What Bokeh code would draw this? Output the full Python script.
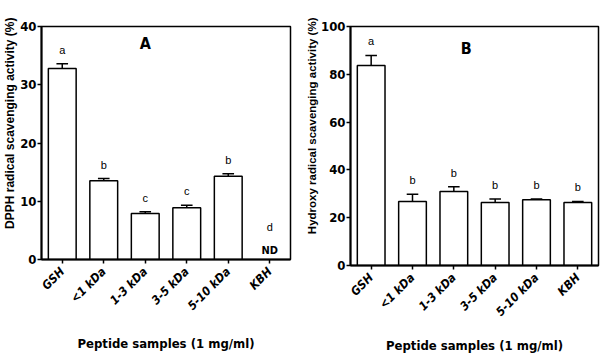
import math
from bokeh.plotting import figure
from bokeh.layouts import row
from bokeh.models import Range1d, FixedTicker, ColumnDataSource, Label, Title
from bokeh.embed import file_html
from bokeh.resources import INLINE
from bokeh.core.properties import value

categories = ["GSH", "<1 kDa", "1-3 kDa", "3-5 kDa", "5-10 kDa", "KBH"]

dpph_mean = [32.8, 13.5, 7.9, 8.9, 14.3, 0.0]
dpph_err = [0.8, 0.4, 0.3, 0.4, 0.4, 0.0]
dpph_letters = ["a", "b", "c", "c", "b", "d"]
dpph_detected = [True, True, True, True, True, False]
dpph_yticks = [0, 10, 20, 30, 40]

hydroxy_mean = [83.7, 26.8, 31.0, 26.4, 27.5, 26.4]
hydroxy_err = [4.2, 3.0, 2.0, 1.4, 0.3, 0.4]
hydroxy_letters = ["a", "b", "b", "b", "b", "b"]
hydroxy_detected = [True, True, True, True, True, True]
hydroxy_yticks = [0, 20, 40, 60, 80, 100]

NARROW = "DejaVu Sans Condensed"
SANS = "Liberation Sans"


def make_panel(title_letter, title_pos, ylabel, ylabel_size, means, errs,
               letters, detected, yticks, frame_w, frame_h,
               left, right, top, bottom, xstand):
    ymax = yticks[-1]
    p = figure(output_backend="svg", toolbar_location=None,
               frame_width=frame_w, frame_height=frame_h,
               min_border_left=left, min_border_right=right,
               min_border_top=top, min_border_bottom=bottom,
               x_range=Range1d(-0.5, len(categories) - 0.5),
               y_range=Range1d(0, ymax))
    p.xgrid.visible = False
    p.ygrid.visible = False
    p.outline_line_color = "black"
    p.outline_line_width = 1.5
    p.background_fill_color = "white"
    p.border_fill_color = "white"

    xs = list(range(len(categories)))
    xs_d = [x for x, d in zip(xs, detected) if d]
    m_d = [m for m, d in zip(means, detected) if d]
    e_d = [e for e, d in zip(errs, detected) if d]
    l_d = [l for l, d in zip(letters, detected) if d]
    tops = [m + e for m, e in zip(m_d, e_d)]

    src = ColumnDataSource(dict(x=xs_d, m=m_d, top=tops, lab=l_d,
                                cl=[x - 0.14 for x in xs_d],
                                cr=[x + 0.14 for x in xs_d]))
    p.vbar(x="x", top="m", width=0.67, bottom=0, source=src,
           fill_color="white", line_color="black", line_width=1.5)
    p.segment(x0="x", y0="m", x1="x", y1="top", source=src,
              line_color="black", line_width=1.5)
    p.segment(x0="cl", y0="top", x1="cr", y1="top", source=src,
              line_color="black", line_width=1.5)
    p.text(x="x", y="top", text="lab", source=src, text_align="center",
           text_baseline="middle", y_offset=-14, text_font=value(SANS),
           text_font_size="11px", text_color="black")

    nd_x = [x for x, d in zip(xs, detected) if not d]
    nd_l = [l for l, d in zip(letters, detected) if not d]
    if nd_x:
        nsrc = ColumnDataSource(dict(x=nd_x, y=[0] * len(nd_x), lab=nd_l,
                                     nd=["ND"] * len(nd_x)))
        p.text(x="x", y="y", text="nd", source=nsrc, text_align="center",
               text_baseline="middle", y_offset=-9, text_font=value(NARROW),
               text_font_size="11px", text_font_style="bold", text_color="black")
        p.text(x="x", y="y", text="lab", source=nsrc, text_align="center",
               text_baseline="middle", y_offset=-33, text_font=value(SANS),
               text_font_size="11px", text_color="black")

    p.add_layout(Label(x=title_pos[0], y=title_pos[1], text=title_letter,
                       text_align="center", text_baseline="middle",
                       text_font=NARROW, text_font_size="16px",
                       text_font_style="bold", text_color="black"))

    # rotated y-axis title, anchored near the top of the frame as in the original
    p.add_layout(Title(text=ylabel, align="right", offset=-9, standoff=1,
                       text_font=SANS, text_font_size=ylabel_size,
                       text_font_style="bold", text_color="black"), "left")

    p.xaxis.ticker = FixedTicker(ticks=xs)
    p.xaxis.major_label_overrides = {i: c for i, c in enumerate(categories)}
    p.xaxis.major_label_orientation = math.pi / 4
    p.xaxis.major_label_text_font = NARROW
    p.xaxis.major_label_text_font_size = "12px"
    p.xaxis.major_label_text_font_style = "bold italic"
    p.xaxis.major_label_text_color = "black"
    p.xaxis.major_label_standoff = 6
    p.xaxis.axis_label = "Peptide samples (1 mg/ml)"
    p.xaxis.axis_label_text_font = NARROW
    p.xaxis.axis_label_text_font_size = "13px"
    p.xaxis.axis_label_text_font_style = "bold"
    p.xaxis.axis_label_text_color = "black"
    p.xaxis.axis_label_standoff = xstand

    p.yaxis.ticker = FixedTicker(ticks=yticks)
    p.yaxis.major_label_text_font = NARROW
    p.yaxis.major_label_text_font_size = "13px"
    p.yaxis.major_label_text_font_style = "bold"
    p.yaxis.major_label_text_color = "black"
    p.yaxis.major_label_standoff = 1

    for ax in (p.xaxis, p.yaxis):
        ax.axis_line_color = "black"
        ax.axis_line_width = 2
        ax.major_tick_line_color = "black"
        ax.major_tick_line_width = 1.5
        ax.major_tick_out = 4
        ax.major_tick_in = 0
        ax.minor_tick_line_color = None
    return p


pA = make_panel("A", (2.0, 37.0), "DPPH radical scavenging activity (%)", "12px",
                dpph_mean, dpph_err, dpph_letters, dpph_detected, dpph_yticks,
                249, 233, 38, 13, 26, 105, 15)
pB = make_panel("B", (2.3, 90.8), "Hydroxy radical scavenging activity (%)", "11.5px",
                hydroxy_mean, hydroxy_err, hydroxy_letters, hydroxy_detected,
                hydroxy_yticks, 248, 239, 47, 5, 26, 99, 11)

layout = row(pA, pB)
open("out.html", "w").write(file_html(layout, INLINE))
